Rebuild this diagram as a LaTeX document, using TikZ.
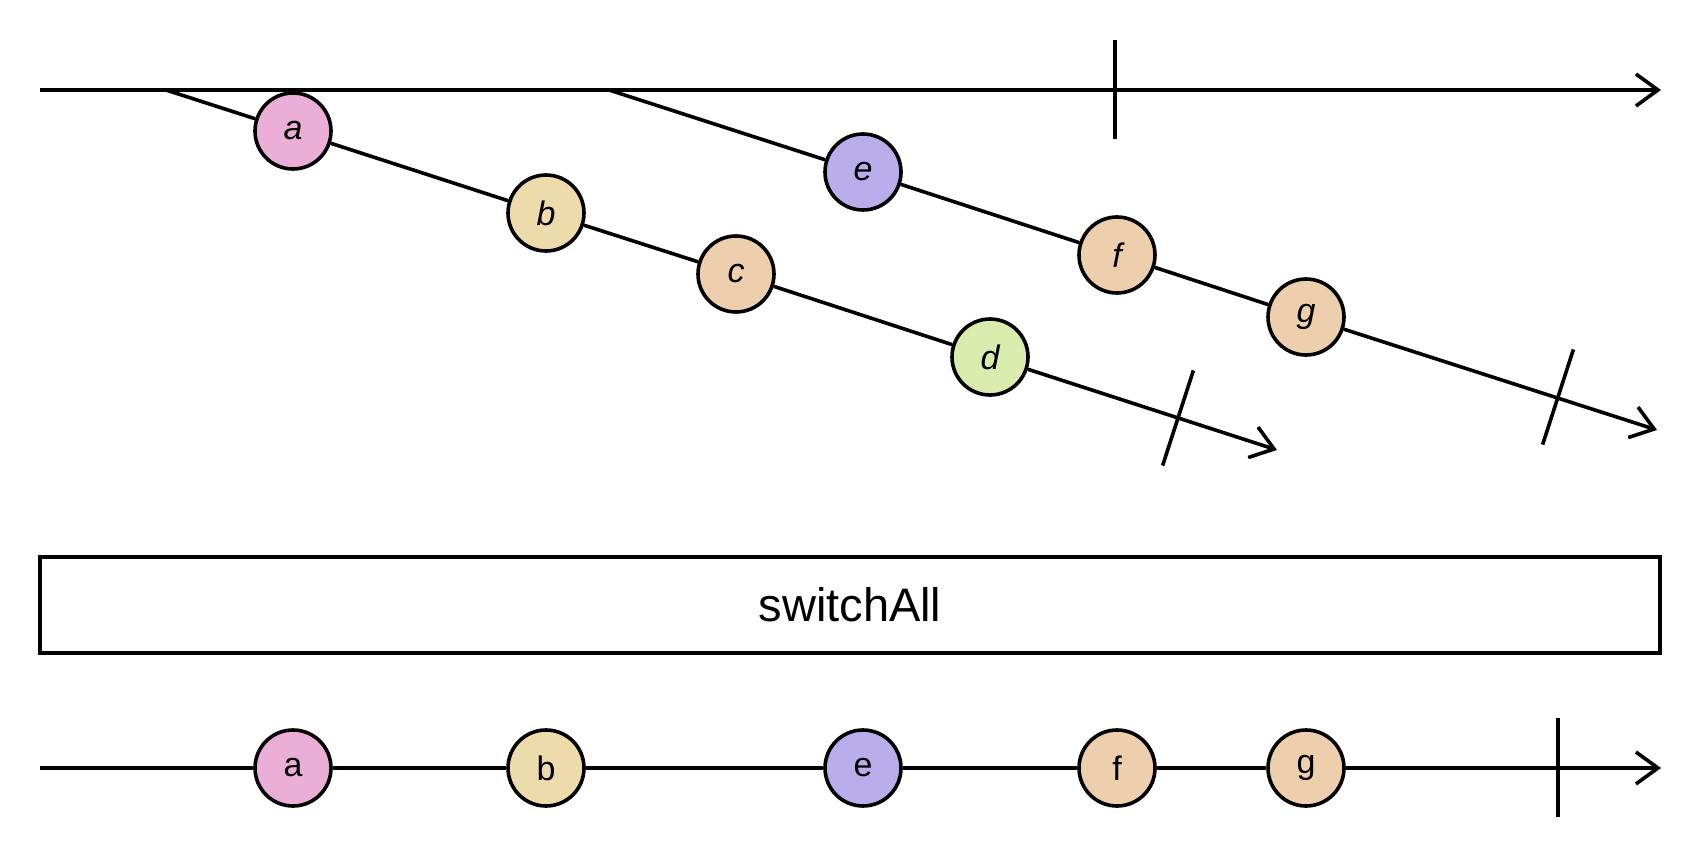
\documentclass[tikz,border=0pt]{standalone}
\usepackage{fontspec}
\setmainfont{Liberation Sans}
\usetikzlibrary{arrows.meta,calc}
\definecolor{cpink}{HTML}{EBAED6}
\definecolor{cyellow}{HTML}{EEDBAB}
\definecolor{corange}{HTML}{EDCFAD}
\definecolor{cgreen}{HTML}{D9ECAD}
\definecolor{cpurple}{HTML}{B9AEEB}
\tikzset{
  tl/.style={line width=3.6pt, draw=black},
  tlarrow/.style={tl, -{Straight Barb[length=22pt,width=32pt,line width=3.6pt]}},
  marble/.style={circle, draw=black, line width=3.6pt, minimum size=76pt, inner sep=0pt,
    font=\fontsize{34}{40}\selectfont},
  imarble/.style={marble, font=\fontsize{34}{40}\selectfont\itshape},
  opbox/.style={draw=black, line width=3.6pt, minimum width=1620pt, minimum height=96pt,
    inner sep=0pt, font=\fontsize{47}{56}\selectfont},
}
\begin{document}
\begin{tikzpicture}[x=1pt,y=-1pt]
\useasboundingbox (0,0) rectangle (1700,858);
% top (outer) timeline
\coordinate (ts) at (40,90);
\coordinate (te) at (1661,90);
\coordinate (tk1) at (1115,40);
\coordinate (tk2) at (1115,139);
\draw[tlarrow] (ts) -- (te);
\draw[tl] (tk1) -- (tk2);
% inner observable 1
\coordinate (s1) at (166,90);
\node[imarble, fill=cpink] (a1) at (293,131) {a};
\node[imarble, fill=cyellow] (b1) at (546,213) {b};
\node[imarble, fill=corange] (c1) at (736,274) {c};
\node[imarble, fill=cgreen] (d1) at (990,357) {d};
\coordinate (e1end) at (1277,450);
\coordinate (t1) at (1178,418);
\draw[tl] (s1) -- (a1);
\draw[tl] (a1) -- (b1);
\draw[tl] (b1) -- (c1);
\draw[tl] (c1) -- (d1);
\draw[tlarrow] (d1) -- (e1end);
\draw[tl] ($(t1)+(15.4,-47.6)$) -- ($(t1)+(-15.4,47.6)$);
% inner observable 2
\coordinate (s2) at (609,90);
\node[imarble, fill=cpurple] (e2) at (863,172) {e};
\node[imarble, fill=corange] (f2) at (1117,255) {f};
\node[imarble, fill=corange] (g2) at (1306,317) {g};
\coordinate (e2end) at (1657,430);
\coordinate (t2) at (1558,397);
\draw[tl] (s2) -- (e2);
\draw[tl] (e2) -- (f2);
\draw[tl] (f2) -- (g2);
\draw[tlarrow] (g2) -- (e2end);
\draw[tl] ($(t2)+(15.4,-47.6)$) -- ($(t2)+(-15.4,47.6)$);
% operator box
\node[opbox] (op) at (850,605) {switchAll};
% output timeline
\coordinate (os) at (40,768);
\node[marble, fill=cpink] (oa) at (293,768) {a};
\node[marble, fill=cyellow] (ob) at (546,768) {b};
\node[marble, fill=cpurple] (oe) at (863,768) {e};
\node[marble, fill=corange] (of) at (1117,768) {f};
\node[marble, fill=corange] (og) at (1306,768) {g};
\coordinate (oend) at (1661,768);
\coordinate (ok1) at (1558,718);
\coordinate (ok2) at (1558,817);
\draw[tl] (os) -- (oa);
\draw[tl] (oa) -- (ob);
\draw[tl] (ob) -- (oe);
\draw[tl] (oe) -- (of);
\draw[tl] (of) -- (og);
\draw[tlarrow] (og) -- (oend);
\draw[tl] (ok1) -- (ok2);
\end{tikzpicture}
\end{document}
